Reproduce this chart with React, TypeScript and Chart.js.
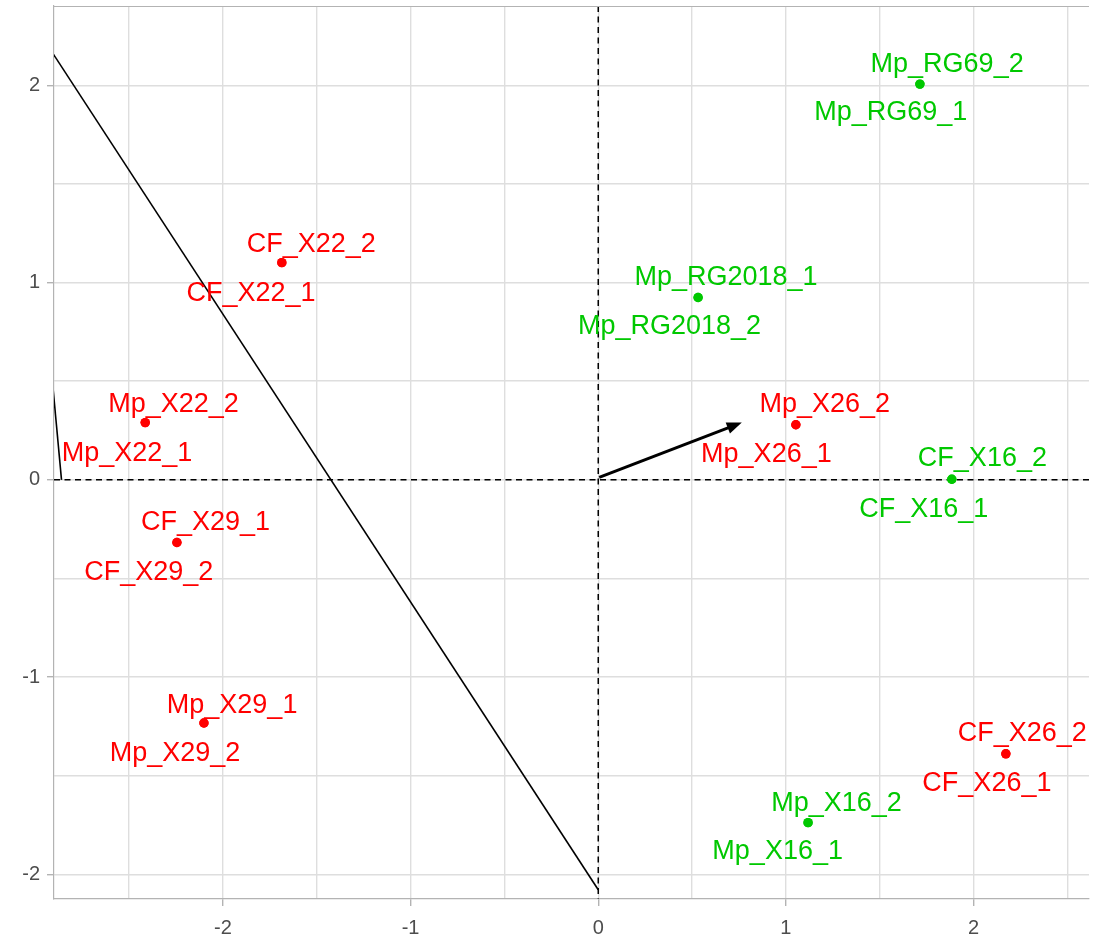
import React, { useEffect, useRef } from 'react';
import { Chart, registerables } from 'chart.js';

Chart.register(...registerables);

// ---- data ----
const sampleNames = [
  'Mp_RG69_1', 'Mp_RG69_2', 'Mp_RG2018_1', 'Mp_RG2018_2',
  'CF_X22_1', 'CF_X22_2', 'Mp_X22_1', 'Mp_X22_2',
  'Mp_X26_1', 'Mp_X26_2', 'CF_X16_1', 'CF_X16_2',
  'CF_X29_1', 'CF_X29_2', 'Mp_X29_1', 'Mp_X29_2',
  'CF_X26_1', 'CF_X26_2', 'Mp_X16_1', 'Mp_X16_2',
];
const sampleGroups = [
  'G2', 'G2', 'G2', 'G2',
  'G1', 'G1', 'G1', 'G1',
  'G1', 'G1', 'G2', 'G2',
  'G1', 'G1', 'G1', 'G1',
  'G1', 'G1', 'G2', 'G2',
];
const pc1 = [
  1.714, 1.714, 0.532, 0.532,
  -1.686, -1.686, -2.414, -2.414,
  1.053, 1.053, 1.884, 1.884,
  -2.245, -2.245, -2.101, -2.101,
  2.172, 2.172, 1.118, 1.118,
];
const pc2 = [
  2.006, 2.006, 0.924, 0.924,
  1.101, 1.101, 0.290, 0.290,
  0.279, 0.279, 0.003, 0.003,
  -0.318, -0.318, -1.233, -1.233,
  -1.389, -1.389, -1.738, -1.738,
];
// repelled label anchors (data units)
const labelPc1 = [
  1.559, 1.859, 0.681, 0.380,
  -1.850, -1.529, -2.511, -2.263,
  0.896, 1.207, 1.735, 2.047,
  -2.093, -2.395, -1.951, -2.255,
  2.071, 2.259, 0.956, 1.270,
];
const labelPc2 = [
  1.871, 2.116, 1.038, 0.788,
  0.953, 1.206, 0.143, 0.395,
  0.137, 0.395, -0.142, 0.117,
  -0.203, -0.458, -1.132, -1.375,
  -1.526, -1.277, -1.874, -1.630,
];
const boundaryLineX = [-3.0, 0];
const boundaryLineY = [2.299, -2.078];
const edgeLineX = [-3.0, -2.86];
const edgeLineY = [1.44, 0];
const arrowX = [0.005, 0.765];
const arrowY = [0.012, 0.29];
const xRange = [-2.9, 2.615];
const yRange = [-2.125, 2.402];
const tickStep = 0.5;

const groupColors: Record<string, string> = { G1: '#FF0000', G2: '#00C800' };
const FONT = '"Liberation Sans", Arial, Helvetica, sans-serif';

function pointsFor(group: string) {
  const out: { x: number; y: number }[] = [];
  sampleGroups.forEach((g, i) => {
    if (g === group) out.push({ x: pc1[i], y: pc2[i] });
  });
  return out;
}

const overlayPlugin = {
  id: 'overlay',
  beforeDatasetsDraw(chart: any) {
    const { ctx, chartArea, scales } = chart;
    const x0 = scales.x.getPixelForValue(0);
    const y0 = scales.y.getPixelForValue(0);
    ctx.save();
    ctx.beginPath();
    ctx.rect(chartArea.left, chartArea.top, chartArea.right - chartArea.left, chartArea.bottom - chartArea.top);
    ctx.clip();
    ctx.strokeStyle = '#000000';
    ctx.lineWidth = 1.5;
    ctx.setLineDash([6, 4.5]);
    ctx.beginPath();
    ctx.moveTo(x0, chartArea.top);
    ctx.lineTo(x0, chartArea.bottom);
    ctx.stroke();
    ctx.beginPath();
    ctx.moveTo(chartArea.left, y0);
    ctx.lineTo(chartArea.right, y0);
    ctx.stroke();
    ctx.restore();
    // top frame line
    ctx.save();
    ctx.strokeStyle = '#b3b3b3';
    ctx.lineWidth = 1.2;
    ctx.beginPath();
    ctx.moveTo(chartArea.left, chartArea.top + 0.5);
    ctx.lineTo(chartArea.right, chartArea.top + 0.5);
    ctx.stroke();
    ctx.restore();
  },
  afterDatasetsDraw(chart: any) {
    const { ctx, scales } = chart;
    // arrow
    const ax1 = scales.x.getPixelForValue(arrowX[0]);
    const ay1 = scales.y.getPixelForValue(arrowY[0]);
    const ax2 = scales.x.getPixelForValue(arrowX[1]);
    const ay2 = scales.y.getPixelForValue(arrowY[1]);
    const ang = Math.atan2(ay2 - ay1, ax2 - ax1);
    const headLen = 15;
    const headHalf = 6;
    ctx.save();
    ctx.strokeStyle = '#000000';
    ctx.fillStyle = '#000000';
    ctx.lineWidth = 3;
    ctx.beginPath();
    ctx.moveTo(ax1, ay1);
    ctx.lineTo(ax2 - Math.cos(ang) * headLen * 0.8, ay2 - Math.sin(ang) * headLen * 0.8);
    ctx.stroke();
    const bx = ax2 - Math.cos(ang) * headLen;
    const by = ay2 - Math.sin(ang) * headLen;
    ctx.beginPath();
    ctx.moveTo(ax2, ay2);
    ctx.lineTo(bx + Math.sin(ang) * headHalf, by - Math.cos(ang) * headHalf);
    ctx.lineTo(bx - Math.sin(ang) * headHalf, by + Math.cos(ang) * headHalf);
    ctx.closePath();
    ctx.fill();
    ctx.restore();
    // labels
    ctx.save();
    const fs = 27;
    ctx.font = `${fs}px ${FONT}`;
    ctx.textAlign = 'center';
    ctx.textBaseline = 'alphabetic';
    sampleNames.forEach((name, i) => {
      const px = scales.x.getPixelForValue(labelPc1[i]);
      const py = scales.y.getPixelForValue(labelPc2[i]);
      ctx.fillStyle = groupColors[sampleGroups[i]];
      ctx.fillText(name, px, py + fs * 0.358);
    });
    ctx.restore();
  },
};

const isMajor = (v: number) => Math.abs(v - Math.round(v)) < 1e-6;

export default function App() {
  const canvasRef = useRef<HTMLCanvasElement | null>(null);
  useEffect(() => {
    document.body.style.margin = '0';
    const canvas = canvasRef.current;
    if (!canvas) return;
    const chart = new Chart(canvas, {
      type: 'scatter',
      data: {
        datasets: [
          {
            label: 'G1',
            data: pointsFor('G1'),
            backgroundColor: groupColors.G1,
            borderWidth: 0,
            pointRadius: 4.7,
            order: 0,
          },
          {
            label: 'G2',
            data: pointsFor('G2'),
            backgroundColor: groupColors.G2,
            borderWidth: 0,
            pointRadius: 4.7,
            order: 1,
          },
          {
            type: 'line',
            label: 'boundary',
            data: boundaryLineX.map((x, i) => ({ x, y: boundaryLineY[i] })),
            borderColor: '#000000',
            borderWidth: 1.6,
            pointRadius: 0,
            showLine: true,
            fill: false,
            order: 2,
          },
          {
            type: 'line',
            label: 'edge',
            data: edgeLineX.map((x, i) => ({ x, y: edgeLineY[i] })),
            borderColor: '#000000',
            borderWidth: 1.6,
            pointRadius: 0,
            showLine: true,
            fill: false,
            order: 3,
          },
        ] as any,
      },
      options: {
        animation: false,
        responsive: false,
        maintainAspectRatio: false,
        layout: { padding: { left: 0, top: 6, right: 23, bottom: 0 } },
        plugins: {
          legend: { display: false },
          tooltip: { enabled: false },
        },
        scales: {
          x: {
            type: 'linear',
            min: xRange[0],
            max: xRange[1],
            afterFit: (s: any) => { s.height = 42; s.paddingLeft = 0; s.paddingRight = 0; },
            grid: {
              color: '#dedede',
              lineWidth: 1.4,
              drawTicks: true,
              tickLength: 7,
              tickWidth: 1.4,
              tickColor: (c: any) => (c.tick && isMajor(c.tick.value) ? '#b3b3b3' : 'rgba(0,0,0,0)'),
            },
            border: { display: true, color: '#b3b3b3', width: 1.2 },
            ticks: {
              stepSize: tickStep,
              includeBounds: false,
              autoSkip: false,
              maxRotation: 0,
              padding: 10,
              color: '#4d4d4d',
              font: { family: FONT, size: 20 },
              callback: (v: any) => (isMajor(Number(v)) ? String(Math.round(Number(v))) : ''),
            },
          },
          y: {
            type: 'linear',
            min: yRange[0],
            max: yRange[1],
            afterFit: (s: any) => { s.width = 54; s.paddingTop = 0; s.paddingBottom = 0; },
            grid: {
              color: '#dedede',
              lineWidth: 1.4,
              drawTicks: true,
              tickLength: 7,
              tickWidth: 1.4,
              tickColor: (c: any) => (c.tick && isMajor(c.tick.value) ? '#b3b3b3' : 'rgba(0,0,0,0)'),
            },
            border: { display: true, color: '#b3b3b3', width: 1.2 },
            ticks: {
              stepSize: tickStep,
              includeBounds: false,
              autoSkip: false,
              padding: 7,
              color: '#4d4d4d',
              font: { family: FONT, size: 20 },
              callback: (v: any) => (isMajor(Number(v)) ? String(Math.round(Number(v))) : ''),
            },
          },
        },
      },
      plugins: [overlayPlugin],
    });
    return () => chart.destroy();
  }, []);

  return (
    <div style={{ width: 1112, height: 941 }}>
      <canvas ref={canvasRef} width={1112} height={941} style={{ display: 'block' }} />
    </div>
  );
}
